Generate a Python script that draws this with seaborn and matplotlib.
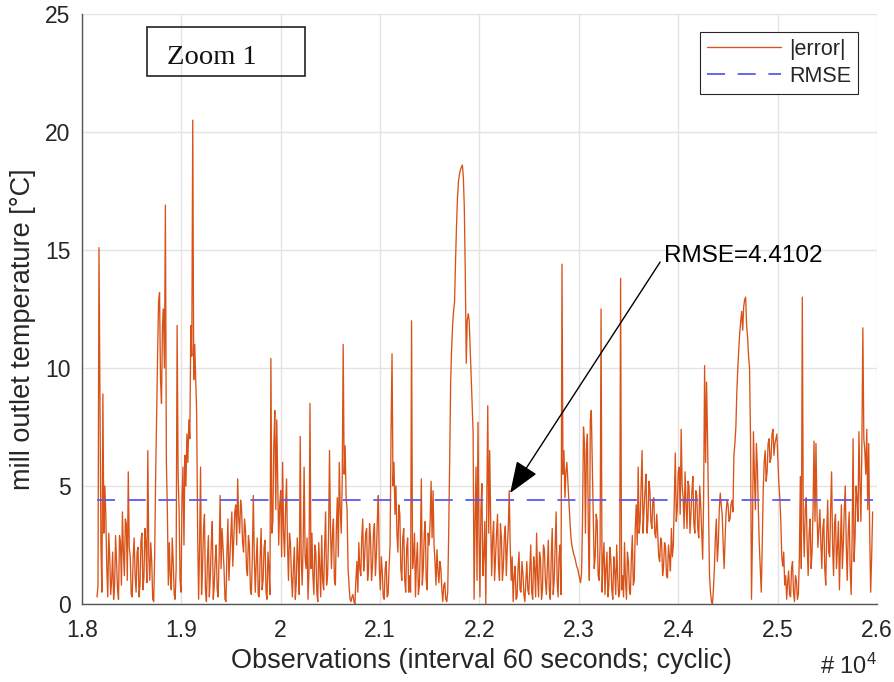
import numpy as np
import pandas as pd
import matplotlib
matplotlib.use("Agg")
import matplotlib.pyplot as plt
import seaborn as sns
from matplotlib.patches import Rectangle

# |error|, one value every ~20 observations
err_seg1 = [0.3, 15.1, 2.5, 8.9, 5.0, 1.5, 3.0, 0.4, 2.2, 0.8,
            1.8, 0.2, 2.6, 3.9, 1.2, 3.4, 5.6, 2.0, 0.3, 2.8,
            0.5, 2.4, 0.8, 3.0, 1.1, 2.6, 6.5, 1.0, 1.8, 0.1,
            5.4, 10.5, 13.2, 8.5, 12.5, 16.9, 4.0, 2.6, 0.6, 1.8,
            0.2, 11.8, 4.0, 0.5, 5.8, 6.3, 7.2, 7.8, 11.8, 20.5,
            11.0, 8.1, 0.2, 5.8, 1.5, 3.8, 0.1, 2.9, 1.2, 3.5,
            0.8, 2.5, 0.3, 4.6, 3.2, 1.5, 0.1, 3.6, 2.0, 3.9,
            2.8, 4.2, 5.3, 3.0, 4.0, 2.2, 3.1, 1.2, 2.5, 0.4,
            4.6, 0.5, 2.8, 0.3, 3.2, 1.0, 2.7, 0.2, 1.5, 10.4,
            3.5, 8.2, 7.8, 2.5, 4.8, 6.0, 2.0, 5.3, 1.0, 2.6]
err_seg2 = [0.3, 2.4, 0.9, 1.8, 7.1, 0.8, 5.8, 1.5, 0.2, 8.5,
            3.0, 0.4, 2.2, 0.1, 1.6, 2.9, 0.6, 3.9, 1.2, 6.5,
            1.5, 3.6, 0.8, 4.5, 6.0, 3.0, 11.0, 6.7, 4.0, 0.8,
            0.1, 0.4, 0.0, 1.8, 2.6, 1.2, 3.6, 2.0, 3.2, 1.5,
            2.8, 1.6, 3.4, 2.1, 4.6, 0.6, 1.4, 0.2, 1.8, 0.4,
            2.5, 10.6, 6.0, 5.0, 2.2, 3.8, 1.0, 3.2, 0.5, 2.8,
            1.2, 12.0, 2.0, 0.3, 2.6, 0.8, 5.3, 1.5, 3.5, 0.6,
            2.5, 5.2, 4.8, 1.8, 2.3, 0.9, 1.5, 0.1, 0.9, 0.1,
            3.0, 9.4, 11.8, 12.8, 16.0, 17.9, 18.4, 18.6, 16.8, 10.2,
            12.3, 10.8, 8.5, 0.2, 5.8, 7.7, 0.3, 5.1, 2.0, 0.0]
err_seg3 = [8.4, 6.5, 1.2, 3.5, 2.0, 3.8, 1.0, 2.8, 1.6, 3.3,
            2.4, 4.8, 1.0, 0.1, 1.6, 0.3, 2.2, 0.5, 1.3, 0.1,
            1.8, 0.4, 2.5, 0.2, 1.5, 3.0, 0.3, 1.9, 0.6, 2.3,
            0.4, 2.7, 0.2, 3.2, 1.0, 3.9, 0.3, 2.5, 14.4, 6.5,
            5.6, 5.2, 3.6, 2.5, 2.1, 1.8, 1.5, 1.1, 1.3, 7.5,
            3.0, 7.2, 1.0, 8.2, 4.0, 2.0, 3.5, 1.0, 12.5, 1.8,
            0.4, 2.2, 0.8, 1.9, 0.2, 1.4, 2.5, 0.3, 13.8, 1.2,
            2.6, 0.2, 1.8, 0.4, 2.9, 1.0, 4.2, 5.8, 3.5, 6.5,
            4.0, 5.5, 3.6, 4.8, 3.2, 4.5, 2.8, 3.0, 1.8, 2.6,
            1.6, 2.4, 1.1, 2.0, 3.2, 2.5, 6.4, 4.0, 5.8, 7.4]
err_seg4 = [4.5, 5.6, 3.2, 5.0, 3.8, 5.4, 3.0, 4.6, 2.8, 4.2,
            1.9, 10.1, 9.4, 4.0, 0.5, 0.0, 1.5, 3.6, 2.5, 4.7,
            3.8, 1.5, 3.9, 4.2, 3.6, 4.4, 6.3, 7.5, 10.0, 11.5,
            12.4, 12.6, 13.0, 11.3, 10.0, 0.2, 7.3, 4.0, 5.8, 2.5,
            0.5, 4.8, 6.5, 5.6, 7.0, 6.2, 7.4, 6.8, 7.2, 5.1,
            3.5, 1.6, 0.8, 0.2, 1.4, 0.3, 1.8, 0.1, 1.0, 0.4,
            5.4, 13.0, 2.0, 4.5, 1.2, 3.6, 2.2, 6.9, 6.8, 2.4,
            4.0, 1.5, 3.6, 0.8, 4.4, 2.0, 5.6, 1.2, 3.8, 2.4,
            0.6, 4.2, 2.5, 5.0, 1.0, 3.9, 0.4, 7.0, 2.8, 4.5,
            7.3, 3.5, 11.7, 6.5, 7.4, 6.8, 0.5, 3.9]
# |error| read between the samples above (the in-between observations)
mid_seg1 = [0.8, 9.0, 0.5, 3.0, 3.8, 0.3, 2.0, 1.0, 0.2, 2.9,
            0.6, 2.9, 0.8, 2.2, 3.6, 1.0, 2.4, 0.4, 2.0, 1.2,
            2.2, 0.3, 2.7, 0.6, 3.2, 0.9, 2.0, 2.6, 0.2, 2.0,
            8.0, 12.8, 9.5, 11.8, 10.0, 6.0, 0.8, 1.2, 2.8, 0.4,
            1.5, 5.5, 1.0, 4.5, 2.5, 5.0, 6.0, 7.0, 10.5, 9.5,
            9.5, 3.0, 2.5, 0.4, 3.2, 0.6, 1.8, 0.3, 2.6, 0.2,
            1.9, 0.6, 2.0, 1.5, 2.4, 0.2, 2.2, 1.0, 3.0, 1.6,
            3.9, 2.5, 3.6, 4.4, 2.6, 3.6, 1.5, 2.9, 0.6, 2.0,
            2.0, 1.8, 0.4, 2.0, 0.6, 2.4, 0.5, 2.2, 0.4, 3.0,
            6.8, 4.0, 5.0, 4.2, 2.0, 3.0, 4.0, 2.5, 3.0, 1.2]
mid_seg2 = [1.5, 0.2, 2.8, 0.4, 2.0, 2.5, 2.0, 2.8, 1.4, 1.5,
            1.2, 2.5, 0.5, 2.6, 0.3, 1.0, 2.4, 0.8, 2.8, 3.2,
            2.9, 1.0, 3.2, 2.0, 4.0, 5.2, 5.5, 4.5, 1.5, 0.2,
            0.3, 0.1, 1.0, 0.5, 1.5, 2.8, 1.4, 3.0, 1.0, 3.4,
            1.0, 3.0, 1.2, 3.6, 1.5, 2.0, 0.3, 1.5, 0.3, 1.6,
            7.3, 5.0, 3.8, 3.0, 4.2, 1.5, 2.8, 1.0, 2.4, 0.5,
            0.5, 1.5, 3.0, 1.8, 0.4, 2.4, 0.8, 3.0, 1.0, 3.0,
            3.5, 2.8, 2.5, 0.8, 1.4, 1.8, 0.6, 0.8, 0.2, 0.5,
            6.0, 10.8, 12.4, 14.5, 17.2, 18.2, 18.5, 18.1, 14.0, 12.0,
            12.0, 9.6, 7.3, 3.5, 1.0, 3.0, 4.0, 1.2, 3.5, 4.0]
mid_seg3 = [3.0, 3.5, 2.8, 1.0, 3.0, 1.6, 3.4, 1.0, 2.9, 1.2,
            3.2, 2.4, 2.0, 1.2, 0.2, 1.5, 0.6, 1.8, 0.4, 1.0,
            0.6, 1.5, 0.5, 2.0, 0.3, 1.2, 2.2, 0.2, 2.5, 1.0,
            1.6, 0.6, 2.0, 0.4, 2.5, 1.0, 2.0, 0.4, 5.5, 4.5,
            6.0, 4.4, 2.9, 2.3, 2.0, 1.6, 1.3, 0.9, 3.5, 6.8,
            6.5, 3.0, 7.8, 6.0, 1.5, 3.8, 1.2, 2.5, 0.5, 2.6,
            1.5, 0.3, 2.4, 0.6, 2.0, 0.4, 1.2, 0.5, 0.6, 0.3,
            1.0, 2.2, 0.6, 1.9, 0.8, 3.2, 2.5, 3.0, 5.0, 3.0,
            4.8, 3.0, 5.2, 3.5, 4.4, 3.0, 3.8, 2.0, 2.8, 1.2,
            2.6, 1.2, 2.5, 1.4, 2.0, 4.5, 3.5, 5.6, 3.8, 5.0]
mid_seg4 = [3.2, 4.2, 5.2, 3.0, 4.8, 3.4, 4.8, 3.2, 5.0, 3.0,
            4.5, 6.0, 7.0, 1.2, 0.1, 0.6, 2.8, 1.8, 4.0, 4.2,
            2.5, 2.8, 4.4, 3.5, 4.2, 3.9, 6.8, 9.0, 10.8, 12.0,
            11.6, 12.9, 11.8, 10.5, 7.0, 3.0, 5.5, 6.8, 4.0, 1.5,
            2.5, 6.0, 5.2, 6.8, 6.0, 7.2, 6.3, 7.0, 6.2, 4.5,
            2.0, 2.2, 1.2, 0.9, 0.4, 1.5, 0.5, 1.2, 0.2, 2.0,
            1.5, 3.5, 4.0, 2.5, 3.0, 1.5, 4.0, 3.5, 4.0, 3.2,
            2.6, 3.2, 1.5, 3.0, 2.2, 4.0, 2.5, 3.4, 1.5, 3.5,
            2.5, 1.5, 4.0, 2.5, 3.0, 1.5, 2.8, 1.8, 5.0, 3.5,
            5.0, 6.8, 7.0, 5.5, 4.0, 3.0, 2.0]
obs_first, obs_last = 18154, 25955
rmse = 4.4102
x_ticks = [18000, 19000, 20000, 21000, 22000, 23000, 24000, 25000, 26000]
x_tick_labels = ["1.8", "1.9", "2", "2.1", "2.2", "2.3", "2.4", "2.5", "2.6"]
y_ticks = [0, 5, 10, 15, 20, 25]

err_main = np.array(err_seg1 + err_seg2 + err_seg3 + err_seg4)
err_mid = np.array(mid_seg1 + mid_seg2 + mid_seg3 + mid_seg4)
err = np.empty(len(err_main) + len(err_mid))
err[0::2] = err_main
err[1::2] = err_mid
obs = np.linspace(obs_first, obs_last, len(err))
df = pd.DataFrame({"obs": obs, "err": err})
df_rmse = pd.DataFrame({"obs": [obs_first, obs_last], "rmse": [rmse, rmse]})

sns.set_style("white")
plt.rcParams["font.family"] = ["Liberation Sans", "DejaVu Sans"]
plt.rcParams["mathtext.default"] = "regular"

fig = plt.figure(figsize=(8.95, 6.82), dpi=100)
ax = fig.add_axes([0.0913, 0.1144, 0.8887, 0.8651])

tc = "#262626"
sns.lineplot(data=df, x="obs", y="err", ax=ax, color="#D95319", lw=0.95,
             label="|error|", estimator=None)
sns.lineplot(data=df_rmse, x="obs", y="rmse", ax=ax, color="#5a5af0", lw=1.3,
             label="RMSE", estimator=None)
ax.lines[-1].set_dashes([10, 7])

ax.set_xlim(18000, 26000)
ax.set_ylim(0, 25)
ax.set_xticks(x_ticks)
ax.set_xticklabels(x_tick_labels)
ax.set_yticks(y_ticks)
ax.grid(True, color="#e3e3e3", lw=1)
ax.set_axisbelow(True)
for s in ["top", "right"]:
    ax.spines[s].set_visible(False)
for s in ["left", "bottom"]:
    ax.spines[s].set_color("#555555")
    ax.spines[s].set_linewidth(1.0)
ax.tick_params(axis="both", direction="in", length=6, width=1, color="#555555",
               labelsize=16.5, labelcolor=tc)
ax.tick_params(axis="x", pad=11)
ax.tick_params(axis="y", pad=8)

ax.set_xlabel("Observations (interval 60 seconds; cyclic)", fontsize=19.5, color=tc)
ax.set_ylabel("mill outlet temperature [°C]", fontsize=19.5, color=tc)
ax.xaxis.set_label_coords(0.503, -0.075)
ax.yaxis.set_label_coords(-0.058, 0.465)

ax.text(1.0, -0.118, "# 10$^4$", transform=ax.transAxes, ha="right", va="baseline",
        fontsize=17, color=tc)

leg = ax.legend(loc="upper right", bbox_to_anchor=(0.976, 0.9695), borderaxespad=0,
                fancybox=False, framealpha=1, edgecolor="#262626", fontsize=15.5,
                handlelength=3.4, handletextpad=0.4, borderpad=0.32, labelspacing=0.28)
leg.get_frame().set_linewidth(0.8)
for t in leg.get_texts():
    t.set_color(tc)

ax.add_patch(Rectangle((0.0817, 0.895), 0.199, 0.083, transform=ax.transAxes,
                       fill=False, edgecolor="#222222", lw=1.2, zorder=5))
ax.text(0.107, 0.9147, "Zoom 1", transform=ax.transAxes, ha="left", va="baseline",
        fontsize=20.5, family=["Liberation Serif", "DejaVu Serif"], color="#111111")

ax.annotate("RMSE=4.4102", xy=(22309, 4.70), xytext=(23858, 14.75),
            ha="left", va="center", fontsize=17.5, color="black",
            arrowprops=dict(arrowstyle="-|>,head_length=1.1,head_width=0.42",
                            color="black", lw=1, mutation_scale=18,
                            relpos=(0, 0.5), shrinkA=1, shrinkB=0))

fig.savefig("out.png", dpi=100)
